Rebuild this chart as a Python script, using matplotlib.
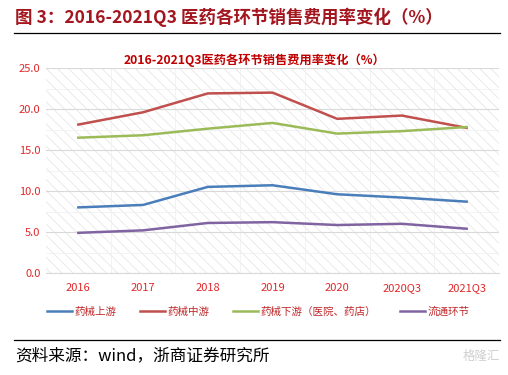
import matplotlib.pyplot as plt
from matplotlib.patches import Rectangle
from matplotlib.lines import Line2D

plt.rcParams['font.family'] = ['Noto Sans CJK SC', 'DejaVu Sans']
plt.rcParams['hatch.linewidth'] = 0.5

# data
periods = ['2016', '2017', '2018', '2019', '2020', '2020Q3', '2021Q3']
upstream = [8.0, 8.3, 10.5, 10.7, 9.6, 9.2, 8.7]
midstream = [18.1, 19.6, 21.9, 22.0, 18.8, 19.2, 17.7]
downstream = [16.5, 16.8, 17.6, 18.3, 17.0, 17.3, 17.8]
circulation = [4.9, 5.2, 6.1, 6.2, 5.85, 6.0, 5.4]

series_names = ['药械上游', '药械中游', '药械下游（医院、药店）', '流通环节']
series_colors = ['#4a7ebb', '#c0504d', '#9bbb59', '#8064a2']
yticks = [0, 5, 10, 15, 20, 25]

W, H = 508, 375
fig = plt.figure(figsize=(W / 100, H / 100), dpi=100)

# header
fig.text(15 / W, 1 - 17 / H, '图 3：2016-2021Q3 医药各环节销售费用率变化（%）',
         fontsize=12.6, fontweight='bold', color='#a3161f', va='center', ha='left')
fig.add_artist(Line2D([14 / W, 500 / W], [1 - 33 / H, 1 - 33 / H],
                      color='black', lw=0.9, transform=fig.transFigure))

ax = fig.add_axes([46 / W, 1 - 273 / H, 453 / W, 205 / H])
ax.add_patch(Rectangle((0, 0), 1, 1, transform=ax.transAxes, facecolor='white',
                       edgecolor='#e2e2e2', hatch='\\\\\\', lw=0, zorder=0))

x = range(len(periods))
for vals, c in zip([upstream, midstream, downstream, circulation], series_colors):
    ax.plot(x, vals, color=c, lw=1.8, zorder=3)

ax.set_xlim(-0.5, len(periods) - 0.5)
ax.set_ylim(0, 25)
ax.set_yticks(yticks)
ax.set_yticklabels([f'{v:.1f}' for v in yticks])
ax.set_xticks(list(x))
ax.set_xticklabels(periods)
ax.set_yticks([2.5, 7.5, 12.5, 17.5, 22.5], minor=True)
ax.set_xticks([i + 0.5 for i in range(len(periods) - 1)], minor=True)
ax.grid(axis='y', which='major', color='#d9d9d9', lw=0.8, zorder=1)
ax.grid(which='minor', color='#efefef', lw=0.5, zorder=1)
ax.tick_params(which='both', length=0)
ax.tick_params(axis='both', labelsize=8, labelcolor='#e0282a')
ax.tick_params(axis='x', pad=7)
ax.tick_params(axis='y', pad=4)
for s in ['top', 'right', 'left']:
    ax.spines[s].set_visible(False)
ax.spines['bottom'].set_color('#d9d9d9')
ax.set_axisbelow(True)

fig.text(0.5, 1 - 60 / H, '2016-2021Q3医药各环节销售费用率变化（%）',
         fontsize=8.8, fontweight='bold', color='#c00000', ha='center', va='center')

handles = [Line2D([], [], color=c, lw=1.8) for c in series_colors]
fig.legend(handles, series_names, loc='center', bbox_to_anchor=(258 / W, 1 - 312 / H),
           ncol=4, frameon=False, fontsize=7.6, handlelength=2.4, handletextpad=0.2,
           columnspacing=2.25, labelcolor='#c0282a')

# footer
fig.add_artist(Line2D([14 / W, 500 / W], [1 - 340 / H, 1 - 340 / H],
                      color='black', lw=0.9, transform=fig.transFigure))
fig.text(15 / W, 1 - 356 / H, '资料来源：wind，浙商证券研究所', fontsize=12,
         family=['Noto Sans CJK SC', 'Liberation Serif'],
         color='black', ha='left', va='center')
fig.text(500 / W, 1 - 356 / H, '格隆汇', fontsize=9, color='#d0d0d0',
         ha='right', va='center')

fig.savefig('out.png', dpi=100)
